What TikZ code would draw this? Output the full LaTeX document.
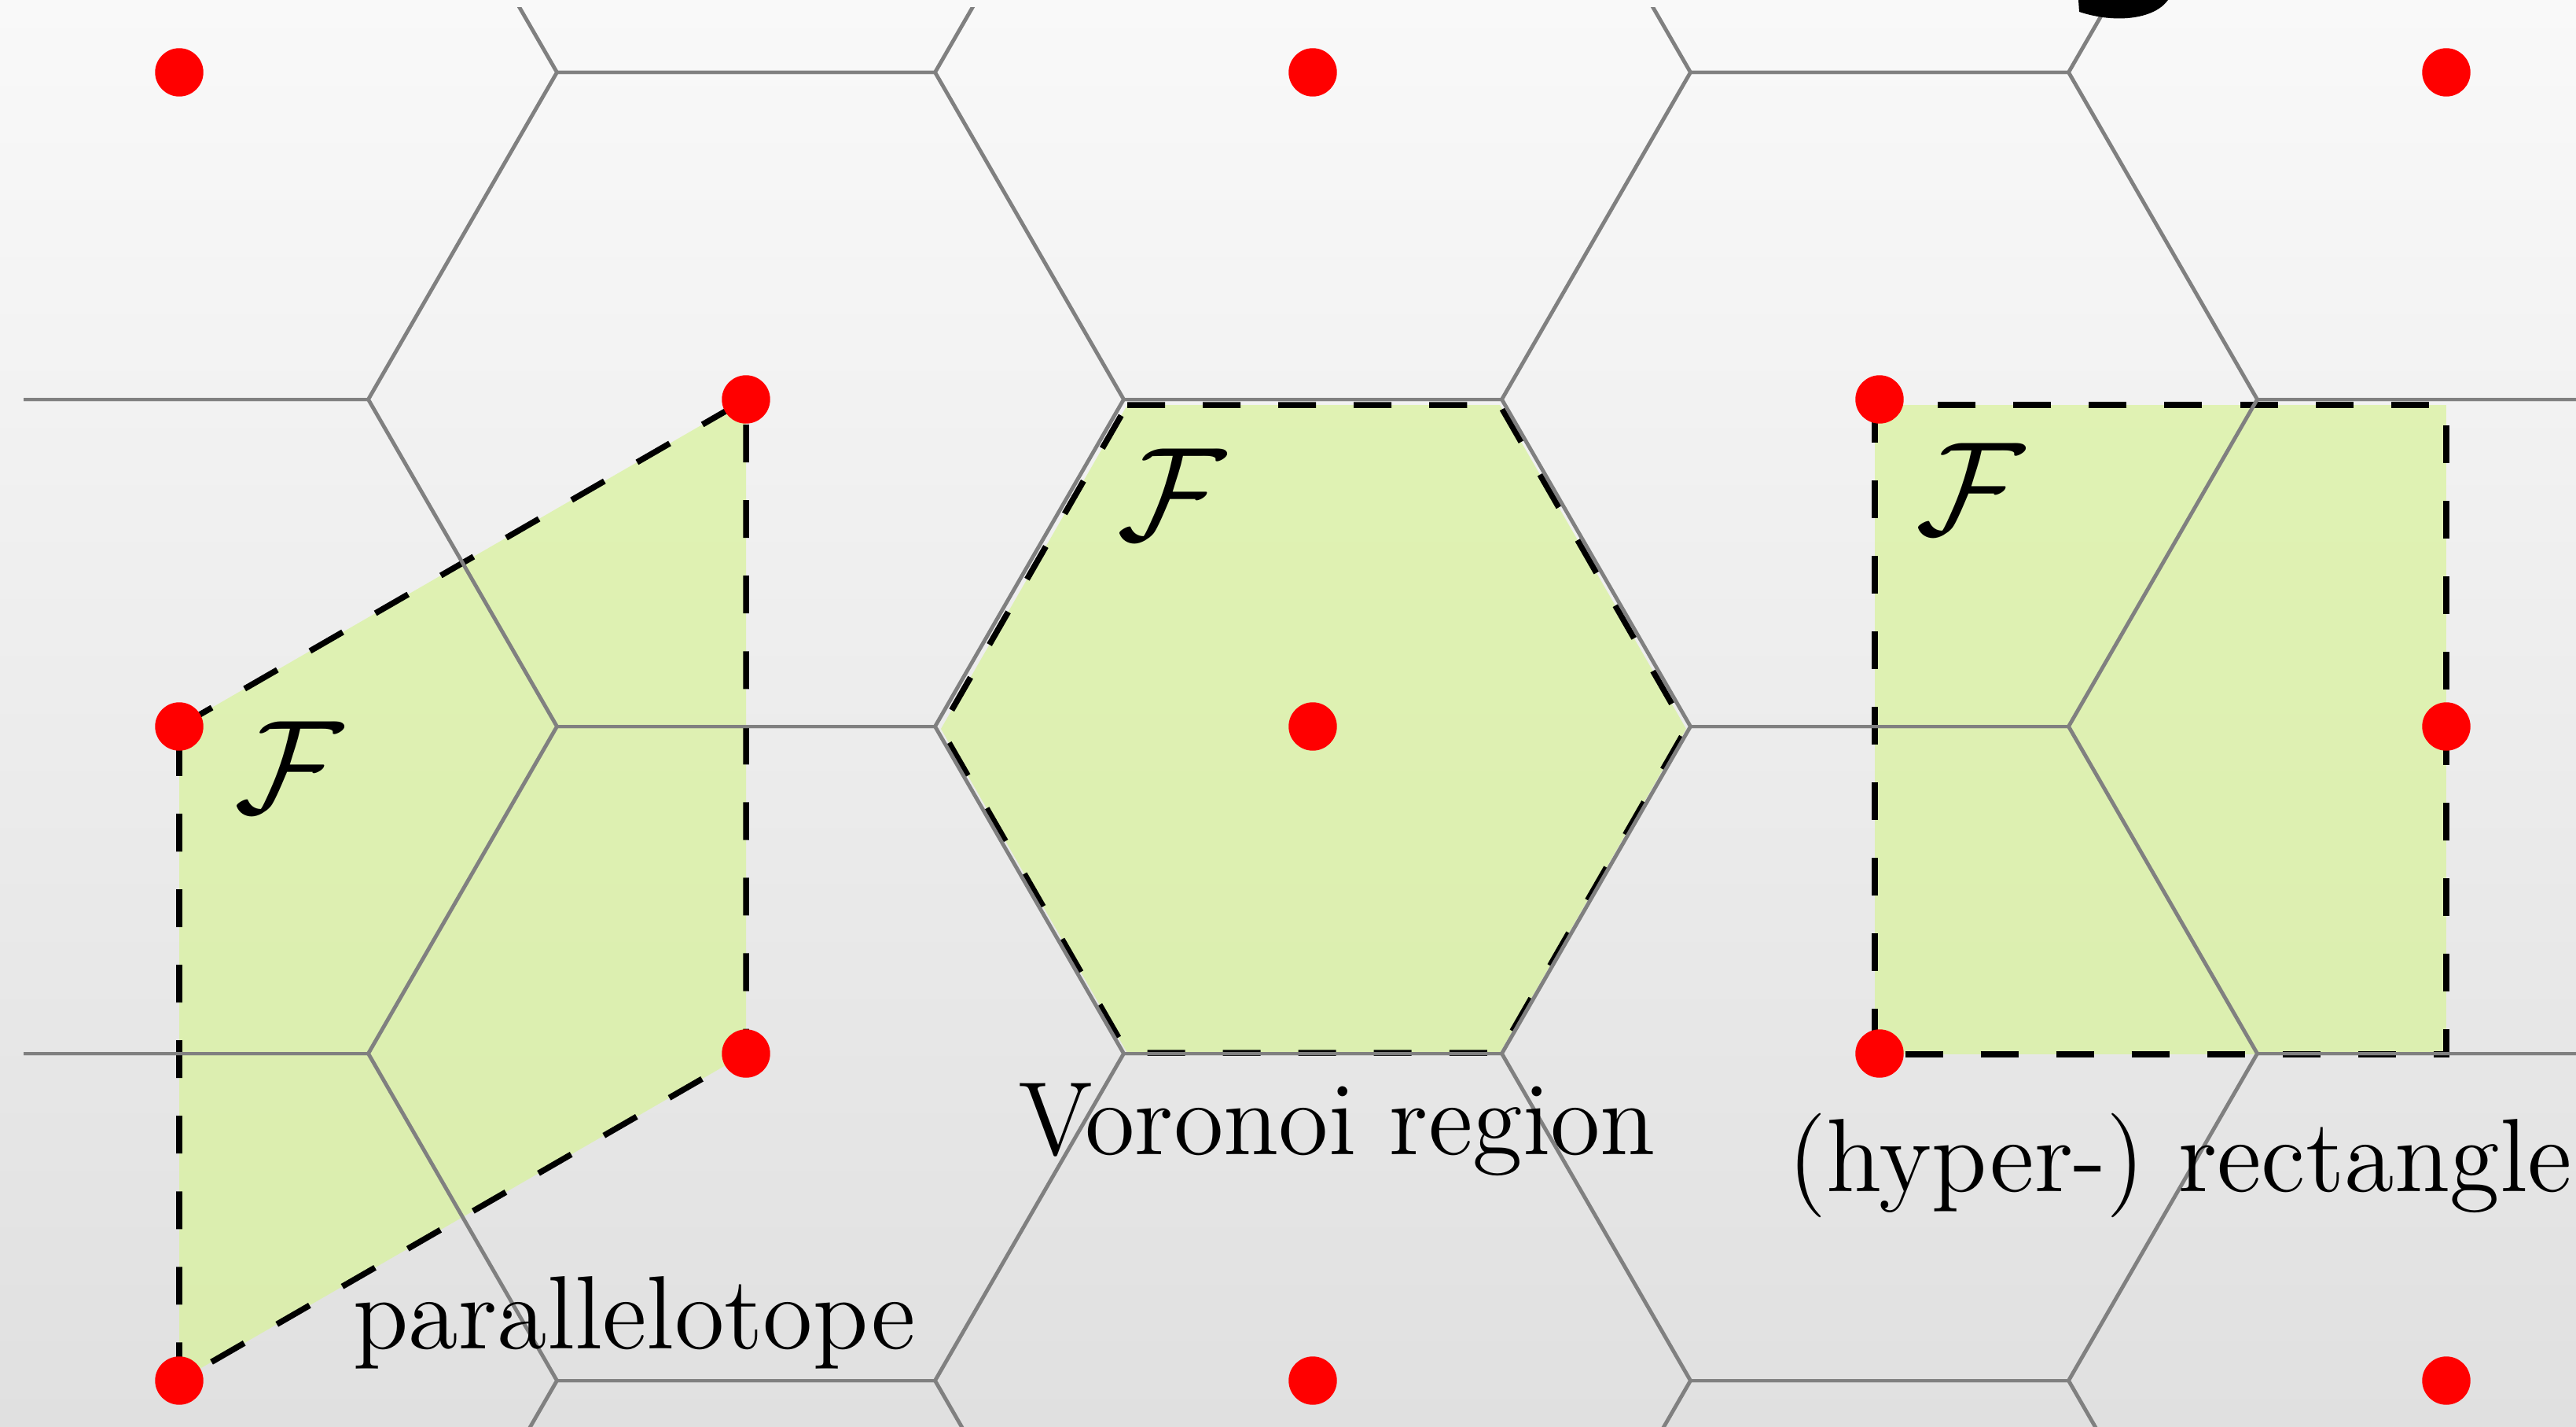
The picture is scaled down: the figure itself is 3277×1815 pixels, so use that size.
\documentclass[tikz,border=0pt]{standalone}
\usepackage{tikz}

\definecolor{cellgreen}{RGB}{216,243,152}
\definecolor{bgtop}{RGB}{249,249,249}
\definecolor{bgbottom}{RGB}{224,224,224}

\tikzset{
  voronoi/.style={draw=gray, line width=0.04cm},
  region/.style={fill=cellgreen, fill opacity=0.69},
  border/.style={draw=black, line width=0.075cm, dash pattern=on 0.48cm off 0.48cm},
  txt/.style={inner sep=0pt, font=\fontsize{12}{14}\selectfont, xscale=3.07, yscale=3.14},
  cal/.style={inner sep=0pt, font=\fontsize{12}{14}\selectfont, scale=4}
}

\begin{document}
\begin{tikzpicture}[x=0.01cm, y=-0.01cm]
  \useasboundingbox (0,0) rectangle (3277,1815);
  \shade[top color=bgtop, bottom color=bgbottom] (0,0) rectangle (3277,1815);

  % the three fundamental regions
  \fill[region] (228,924) -- (949,508) -- (949,1340) -- (228,1756) -- cycle;
  \fill[region] (1434,515) -- (1908,515) -- (2145,927) -- (1908,1339) -- (1434,1339) -- (1197,927) -- cycle;
  \fill[region] (2385,515) rectangle (3112,1341);

  \draw[border] (228,924) -- (949,508) -- (949,1340) -- (228,1756) -- cycle;
  \draw[border] (1434,515) -- (1908,515) -- (2145,927) -- (1908,1339) -- (1434,1339) -- (1197,927) -- cycle;
  \draw[border] (2385,515) rectangle (3112,1341);

  % Voronoi cells of the hexagonal lattice
  \begin{scope}
    \clip (30,9) rectangle (3277,1815);
    \foreach \i in {-1,...,5}{
      \foreach \j in {-1,...,2}{
        \pgfmathsetmacro{\cx}{228+721*\i}
        \pgfmathsetmacro{\cy}{92+832*\j+416*mod(\i+2,2)}
        \draw[voronoi] (\cx+480,\cy) -- (\cx+240,\cy+416) -- (\cx-240,\cy+416)
          -- (\cx-480,\cy) -- (\cx-240,\cy-416) -- (\cx+240,\cy-416) -- cycle;
      }
    }
  \end{scope}

  \node[cal] (fPar) at (368,976) {$\mathcal{F}$};
  \node[cal] (fVor) at (1491,629) {$\mathcal{F}$};
  \node[cal] (fRect) at (2507,622) {$\mathcal{F}$};

  \node[txt, anchor=base] (parLabel) at (807,1715) {parallelotope};
  \node[txt, anchor=base] (vorLabel) at (1701,1468) {Voronoi region};
  \node[txt, anchor=base] (rectLabel) at (2773,1515) {(hyper-) rectangle};

  % lattice points
  \foreach \x in {228,1670,3112}
    \foreach \y in {92,924,1756}
      \filldraw[red] (\x,\y) circle (0.3cm);
  \foreach \x in {949,2391}
    \foreach \y in {508,1340}
      \filldraw[red] (\x,\y) circle (0.3cm);

  \fill (2644,0) -- (2645,15) .. controls (2690,30) and (2740,25) .. (2758,0) -- cycle;
\end{tikzpicture}
\end{document}
